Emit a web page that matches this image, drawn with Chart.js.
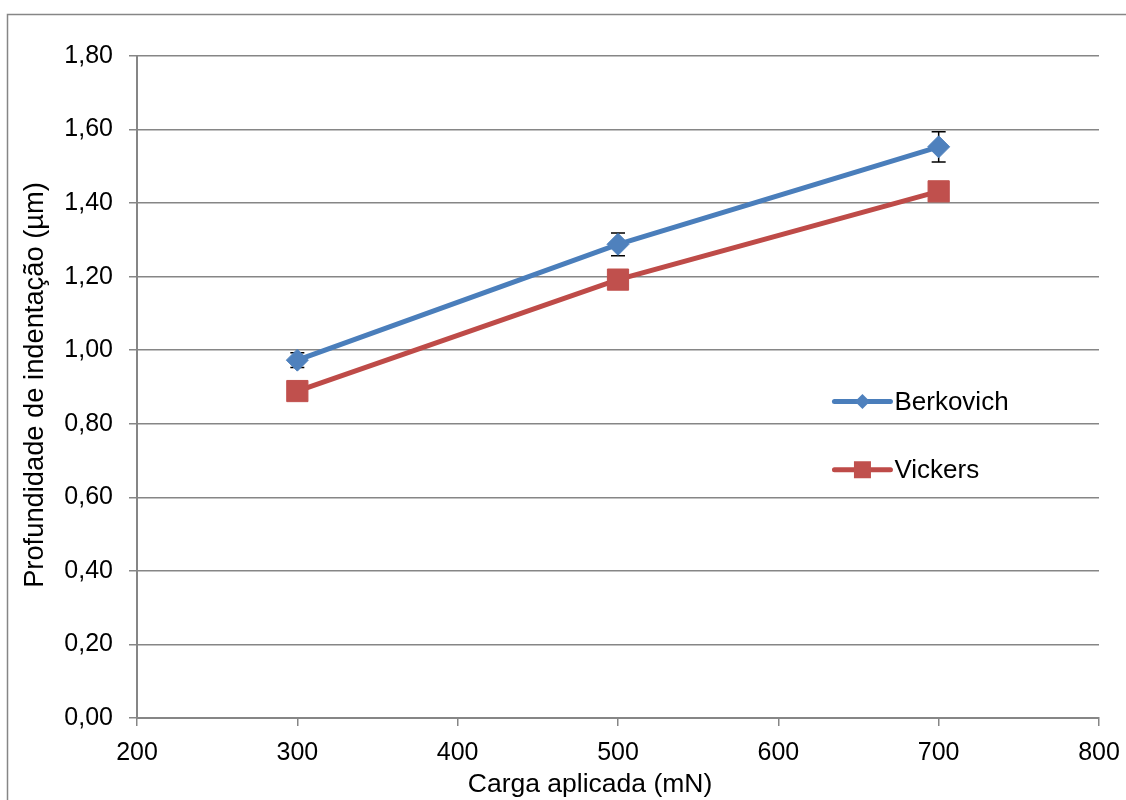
<!DOCTYPE html>
<html>
<head>
<meta charset="utf-8">
<script src="https://cdn.jsdelivr.net/npm/chart.js@4/dist/chart.umd.min.js"></script>
<style>
  html, body { margin: 0; padding: 0; background: #fff; }
  #wrap { width: 1126px; height: 800px; }
</style>
</head>
<body>
<div id="wrap"><canvas id="chart" width="1126" height="800"></canvas></div>
<script>
const loads = [300, 500, 700];
const berkovich = [0.973, 1.288, 1.553];
const berkovichErr = [0.02, 0.031, 0.041];
const vickers = [0.889, 1.192, 1.432];
const seriesNames = ['Berkovich', 'Vickers'];
const xTitle = 'Carga aplicada (mN)';
const yTitle = 'Profundidade de indentação (µm)';

const gridGray = '#868686';
const font = 'Liberation Sans, Arial, sans-serif';

// frame around the whole chart object
const framePlugin = {
  id: 'frame',
  beforeDraw(chart) {
    const ctx = chart.ctx;
    ctx.save();
    ctx.strokeStyle = gridGray;
    ctx.lineWidth = 1.5;
    ctx.strokeRect(7.5, 14.5, chart.width + 20, chart.height + 20);
    ctx.restore();
  }
};

// drawn under the markers, like the original
const errorBarPlugin = {
  id: 'errorBars',
  beforeDatasetsDraw(chart) {
    const ctx = chart.ctx;
    const x = chart.scales.x, y = chart.scales.y;
    ctx.save();
    ctx.strokeStyle = '#000';
    ctx.lineWidth = 1.5;
    loads.forEach((l, i) => {
      const px = x.getPixelForValue(l);
      const top = y.getPixelForValue(berkovich[i] + berkovichErr[i]);
      const bot = y.getPixelForValue(berkovich[i] - berkovichErr[i]);
      ctx.beginPath();
      ctx.moveTo(px, top); ctx.lineTo(px, bot);
      ctx.moveTo(px - 7, top); ctx.lineTo(px + 7, top);
      ctx.moveTo(px - 7, bot); ctx.lineTo(px + 7, bot);
      ctx.stroke();
    });
    ctx.restore();
  }
};

// axis titles: the x title is not centred on the plot in the original
const titlesPlugin = {
  id: 'axisTitles',
  afterDraw(chart) {
    const ctx = chart.ctx;
    const area = chart.chartArea;
    ctx.save();
    ctx.fillStyle = '#000';
    ctx.textAlign = 'center';
    ctx.textBaseline = 'alphabetic';
    ctx.font = '26.5px ' + font;
    ctx.fillText(xTitle, 590, 792);
    ctx.translate(43, (area.top + area.bottom) / 2 - 2);
    ctx.rotate(-Math.PI / 2);
    ctx.font = '27.3px ' + font;
    ctx.fillText(yTitle, 0, 0);
    ctx.restore();
  }
};

// legend sits inside the plot, right side
const legendPlugin = {
  id: 'insideLegend',
  afterDraw(chart) {
    const ctx = chart.ctx;
    const area = chart.chartArea;
    const x0 = area.left + (area.right - area.left) * 0.725;
    const rows = [area.top + (area.bottom - area.top) * 0.522, area.top + (area.bottom - area.top) * 0.625];
    ctx.save();
    chart.data.datasets.forEach((ds, i) => {
      const yy = rows[i];
      const cx = x0 + 28;
      ctx.strokeStyle = ds.borderColor;
      ctx.lineWidth = 5;
      ctx.lineCap = 'round';
      ctx.beginPath();
      ctx.moveTo(x0, yy); ctx.lineTo(x0 + 56, yy);
      ctx.stroke();
      ctx.fillStyle = ds.pointBackgroundColor;
      ctx.beginPath();
      if (ds.pointStyle === 'rect') {
        ctx.fillRect(cx - 8.5, yy - 8.5, 17, 17);
      } else {
        ctx.moveTo(cx, yy - 7.5); ctx.lineTo(cx + 7.5, yy);
        ctx.lineTo(cx, yy + 7.5); ctx.lineTo(cx - 7.5, yy);
        ctx.closePath(); ctx.fill();
      }
      ctx.fillStyle = '#000';
      ctx.font = '26px ' + font;
      ctx.textBaseline = 'middle';
      ctx.fillText(ds.label, x0 + 60, yy + 1);
    });
    ctx.restore();
  }
};

new Chart(document.getElementById('chart'), {
  type: 'line',
  data: {
    datasets: [
      {
        label: seriesNames[0],
        data: loads.map((l, i) => ({ x: l, y: berkovich[i] })),
        borderColor: '#4a7ebb',
        borderWidth: 5,
        pointStyle: 'rectRot',
        pointRadius: 11,
        pointBackgroundColor: '#4f81bd',
        pointBorderColor: '#4f81bd',
        pointBorderWidth: 1
      },
      {
        label: seriesNames[1],
        data: loads.map((l, i) => ({ x: l, y: vickers[i] })),
        borderColor: '#be4b48',
        borderWidth: 5,
        pointStyle: 'rect',
        pointRadius: 15,
        pointBackgroundColor: '#c0504d',
        pointBorderColor: '#c0504d',
        pointBorderWidth: 1
      }
    ]
  },
  options: {
    responsive: false,
    animation: false,
    layout: { padding: { left: 0, right: 27, top: 56, bottom: 0 } },
    plugins: {
      legend: { display: false },
      tooltip: { enabled: false }
    },
    scales: {
      x: {
        type: 'linear',
        min: 200, max: 800,
        afterFit: s => { s.height = 82; s.paddingLeft = 0; s.paddingRight = 0; },
        ticks: {
          stepSize: 100,
          color: '#000',
          font: { family: font, size: 25 },
          padding: 12
        },
        grid: { drawOnChartArea: false, color: gridGray, lineWidth: 1.5, tickLength: 8 },
        border: { color: gridGray, width: 2 }
      },
      y: {
        min: 0, max: 1.8,
        afterFit: s => { s.width = 137; },
        ticks: {
          stepSize: 0.2,
          color: '#000',
          font: { family: font, size: 25 },
          padding: 16,
          callback: v => v.toFixed(2).replace('.', ',')
        },
        grid: { color: gridGray, lineWidth: 1.5, tickLength: 8 },
        border: { color: gridGray, width: 2 }
      }
    }
  },
  plugins: [framePlugin, errorBarPlugin, titlesPlugin, legendPlugin]
});
</script>
</body>
</html>
